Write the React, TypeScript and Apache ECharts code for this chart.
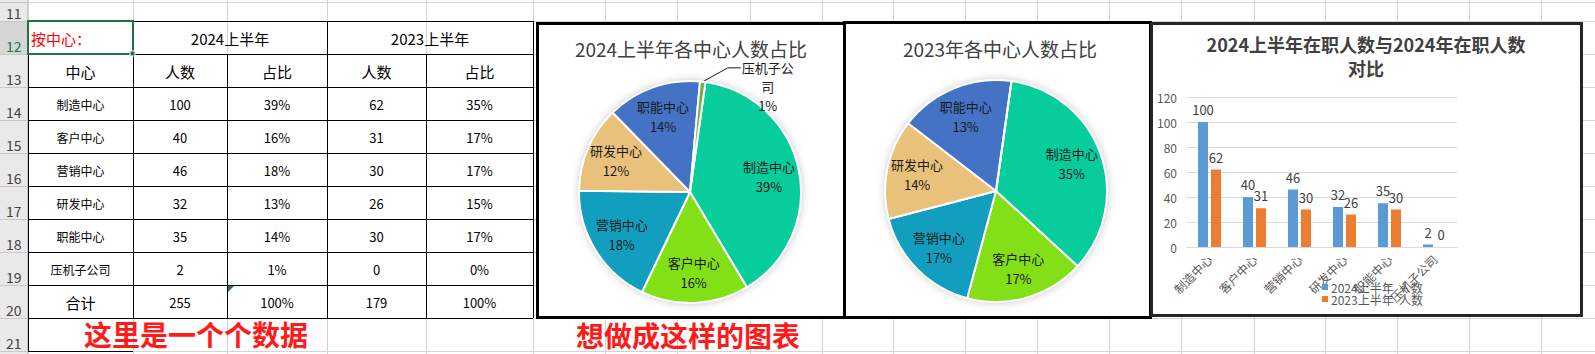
import React, { useEffect, useRef } from "react";
import * as echarts from "echarts";

// ---------- data ----------
const centers = ["制造中心", "客户中心", "营销中心", "研发中心", "职能中心", "压机子公司"];
const count2024 = [100, 40, 46, 32, 35, 2];
const share2024 = ["39%", "16%", "18%", "13%", "14%", "1%"];
const count2023 = [62, 31, 30, 26, 30, 0];
const share2023 = ["35%", "17%", "17%", "15%", "17%", "0%"];
const total2024 = 255;
const total2023 = 179;
const totalShare = "100%";
const pie2023Shown = [35, 17, 17, 14, 13]; // percentages printed on the 2023 pie
const rowNumbers = ["11", "12", "13", "14", "15", "16", "17", "18", "19", "20", "21"];
const barNames = ["2024上半年  人数", "2023上半年  人数"];
const yTicks = { min: 0, max: 120, step: 20 };

// ---------- layout / style ----------
const FONT = '"Noto Sans CJK SC", "Noto Sans", sans-serif';
const sliceColors = ["#07cc9c", "#84e016", "#129fbf", "#e9c17a", "#4472c4", "#70ad47"];
const colX = [28, 133, 227, 327, 426, 533];
const rowY = [2, 21, 54, 87, 120, 153, 186, 219, 252, 285, 318, 351];
const gridCols = [28, 133, 227, 327, 426, 533, 605, 677, 750, 822, 893, 965, 1037, 1109, 1181, 1254, 1325, 1397, 1469, 1541];
const PIE_R = 111;
const pie1Center = [690, 192];
const pie2Center = [996, 191];

function txt(x: number, y: number, text: string, size: number, color: string, extra: any = {}) {
  return {
    type: "text",
    x,
    y,
    z: 10,
    silent: true,
    style: {
      text,
      align: extra.align || "center",
      verticalAlign: "middle",
      fontSize: size,
      fontFamily: FONT,
      fontWeight: extra.weight || "normal",
      lineHeight: extra.lineHeight,
      fill: color,
    },
  };
}
function hline(x1: number, x2: number, y: number, color: string, w = 1, z = 2) {
  return { type: "line", z, silent: true, shape: { x1, y1: y + 0.5, x2, y2: y + 0.5 }, style: { stroke: color, lineWidth: w } };
}
function vline(x: number, y1: number, y2: number, color: string, w = 1, z = 2) {
  return { type: "line", z, silent: true, shape: { x1: x + 0.5, y1, x2: x + 0.5, y2 }, style: { stroke: color, lineWidth: w } };
}

function buildGraphic() {
  const els: any[] = [];
  const GRAY = "#d4d4d4";
  // spreadsheet gridlines
  rowY.forEach((y) => els.push(hline(28, 1595, y, GRAY, 1, 1)));
  gridCols.forEach((x) => els.push(vline(x, 0, 354, GRAY, 1, 1)));
  // row header column
  els.push({ type: "rect", z: 1, silent: true, shape: { x: 0, y: 0, width: 28, height: 354 }, style: { fill: "#e9e9e9" } });
  els.push({ type: "rect", z: 1, silent: true, shape: { x: 0, y: rowY[1], width: 28, height: rowY[2] - rowY[1] }, style: { fill: "#d6d6d6" } });
  rowY.forEach((y) => els.push(hline(0, 28, y, "#c8c8c8", 1, 2)));
  els.push(vline(27, 0, 354, "#c8c8c8", 1, 2));
  rowNumbers.forEach((n, i) => {
    els.push(txt(6, rowY[i + 1] - 8, n, 14, i === 1 ? "#217346" : "#444", { align: "left" }));
  });
  // table borders
  const B = "#000";
  els.push(hline(133, 533, rowY[1], B, 1, 3));
  for (let r = 2; r <= 10; r++) els.push(hline(28, 533, rowY[r], B, 1, 3));
  els.push(hline(28, 133, rowY[11], B, 1, 3));
  els.push(vline(28, rowY[1], rowY[11], B, 1, 3));
  els.push(vline(133, rowY[1], rowY[10], B, 1, 3));
  els.push(vline(227, rowY[2], rowY[10], B, 1, 3));
  els.push(vline(327, rowY[1], rowY[10], B, 1, 3));
  els.push(vline(426, rowY[2], rowY[10], B, 1, 3));
  els.push(vline(533, rowY[1], rowY[10], B, 1, 3));
  // selected cell
  els.push({ type: "rect", z: 4, silent: true, shape: { x: 28, y: 21, width: 105, height: 33 }, style: { fill: "none", stroke: "#217346", lineWidth: 2 } });
  els.push({ type: "rect", z: 4, silent: true, shape: { x: 130, y: 51, width: 5, height: 5 }, style: { fill: "#217346", stroke: "#fff", lineWidth: 1 } });
  els.push({ type: "polygon", z: 4, silent: true, shape: { points: [[228, 286], [234, 286], [228, 292]] }, style: { fill: "#217346" } });

  const cx = (c: number) => (colX[c] + colX[c + 1]) / 2;
  const cy = (r: number) => (rowY[r] + rowY[r + 1]) / 2 + 1;
  // header rows
  els.push(txt(31, cy(1), "按中心：", 15, "#ff0000", { align: "left" }));
  els.push(txt((colX[1] + colX[3]) / 2, cy(1), "2024上半年", 15, "#000"));
  els.push(txt((colX[3] + colX[5]) / 2, cy(1), "2023上半年", 15, "#000"));
  ["中心", "人数", "占比", "人数", "占比"].forEach((h, c) => els.push(txt(cx(c), cy(2), h, 15, "#000")));
  centers.forEach((name, i) => {
    const r = 3 + i;
    els.push(txt(cx(0), cy(r), name, 12, "#000"));
    els.push(txt(cx(1), cy(r), String(count2024[i]), 13, "#000"));
    els.push(txt(cx(2), cy(r), share2024[i], 13, "#000"));
    els.push(txt(cx(3), cy(r), String(count2023[i]), 13, "#000"));
    els.push(txt(cx(4), cy(r), share2023[i], 13, "#000"));
  });
  els.push(txt(cx(0), cy(9), "合计", 15, "#000"));
  els.push(txt(cx(1), cy(9), String(total2024), 13, "#000"));
  els.push(txt(cx(2), cy(9), totalShare, 13, "#000"));
  els.push(txt(cx(3), cy(9), String(total2023), 13, "#000"));
  els.push(txt(cx(4), cy(9), totalShare, 13, "#000"));
  els.push(txt(196, 334, "这里是一个个数据", 28, "#ff1a1a", { weight: "bold" }));
  els.push(txt(688, 335, "想做成这样的图表", 28, "#ff1a1a", { weight: "bold" }));

  // chart frames
  els.push({ type: "rect", z: 5, silent: true, shape: { x: 537.5, y: 23.5, width: 307, height: 294 }, style: { fill: "#fff", stroke: "#000", lineWidth: 3 } });
  els.push({ type: "rect", z: 5, silent: true, shape: { x: 844.5, y: 22.5, width: 306, height: 295 }, style: { fill: "#fff", stroke: "#000", lineWidth: 3 } });
  els.push({ type: "rect", z: 6, silent: true, shape: { x: 1151.5, y: 23.5, width: 430, height: 292 }, style: { fill: "#fff", stroke: "#262626", lineWidth: 3 } });
  // chart titles
  els.push(txt(691, 48, "2024上半年各中心人数占比", 19, "#404040"));
  els.push(txt(1000, 48, "2023年各中心人数占比", 19, "#404040"));
  els.push(txt(1366, 56, "2024上半年在职人数与2024年在职人数\n对比", 18, "#404040", { weight: "bold", lineHeight: 24 }));
  return els;
}

function pieSeries(center: number[], values: number[], pctText: (p: any) => string, isFirst: boolean) {
  const data = centers.map((n, i) => ({ name: n, value: values[i], itemStyle: { color: sliceColors[i] } }));
  const mainData: any[] = data.map((d) => ({ ...d }));
  if (isFirst) {
    mainData[5] = {
      ...mainData[5],
      label: {
        show: true,
        position: "outside",
        formatter: (p: any) => `${p.name.slice(0, 4)}\n${p.name.slice(4)}\n${p.percent}%`,
        fontSize: 13,
        lineHeight: 19,
        fontFamily: FONT,
        color: "#1a1a1a",
      },
      labelLine: { show: true, length: 15, length2: 12, lineStyle: { color: "#1a1a1a", width: 1 } },
    };
  }
  const labelData: any[] = data.map((d, i) => ({
    ...d,
    itemStyle: { color: "rgba(0,0,0,0)", borderWidth: 0 },
    label: { show: i < 5 },
  }));
  return [
    {
      type: "pie",
      center,
      radius: PIE_R,
      silent: true,
      z: 7,
      startAngle: 82,
      label: { show: false },
      labelLine: { show: false },
      itemStyle: { color: "#fff", shadowBlur: 8, shadowColor: "rgba(0,0,0,0.25)" },
      data: [{ value: 1, name: "bg" }],
    },
    {
      type: "pie",
      center,
      radius: PIE_R,
      z: 8,
      startAngle: 82,
      clockwise: true,
      silent: true,
      percentPrecision: 0,
      avoidLabelOverlap: false,
      itemStyle: { borderColor: "#fff", borderWidth: 2 },
      label: { show: false },
      labelLine: { show: false },
      labelLayout: isFirst
        ? (params: any) => {
            if (params.dataIndex !== 5 || !params.labelLinePoints) return {};
            const p0 = params.labelLinePoints[0];
            const ly = params.labelLinePoints[1][1] + 1;
            const pts = [p0, [p0[0] + 25, ly], [p0[0] + 38, ly]];
            return { x: p0[0] + 65, y: ly - 10, align: "center", verticalAlign: "top", labelLinePoints: pts };
          }
        : undefined,
      data: mainData,
    },
    {
      type: "pie",
      center,
      radius: [44, PIE_R],
      z: 9,
      startAngle: 82,
      clockwise: true,
      silent: true,
      percentPrecision: 0,
      avoidLabelOverlap: false,
      label: {
        show: true,
        position: "inside",
        formatter: (p: any) => `${p.name}\n${pctText(p)}%`,
        fontSize: 13,
        lineHeight: 20,
        fontFamily: FONT,
        color: "#1a1a1a",
      },
      labelLine: { show: false },
      data: labelData,
    },
  ];
}

export default function App() {
  const ref = useRef<HTMLDivElement>(null);
  useEffect(() => {
    if (!ref.current) return;
    const chart = echarts.init(ref.current, undefined, { renderer: "svg" });
    const option: any = {
      animation: false,
      backgroundColor: "#fff",
      textStyle: { fontFamily: FONT },
      graphic: { elements: buildGraphic() },
      legend: {
        data: barNames,
        orient: "vertical",
        left: 1322,
        top: 281,
        padding: 0,
        itemGap: 0,
        itemWidth: 6,
        itemHeight: 6,
        icon: "rect",
        z: 12,
        textStyle: { fontSize: 12, color: "#595959", lineHeight: 12, fontFamily: FONT, padding: [0, 0, 0, -2] },
      },
      grid: { left: 1187, top: 97, width: 270, height: 150, containLabel: false, z: 10 },
      xAxis: {
        type: "category",
        data: centers,
        z: 10,
        axisTick: { show: false },
        axisLine: { lineStyle: { color: "#d9d9d9" } },
        axisLabel: { rotate: 45, interval: 0, fontSize: 12, color: "#595959", margin: 10, fontFamily: FONT },
      },
      yAxis: {
        type: "value",
        z: 10,
        min: yTicks.min,
        max: yTicks.max,
        interval: yTicks.step,
        axisLine: { show: false },
        axisTick: { show: false },
        axisLabel: { fontSize: 12, color: "#595959", margin: 10, fontFamily: FONT },
        splitLine: { lineStyle: { color: "#d9d9d9" } },
      },
      series: [
        ...pieSeries(pie1Center, count2024, (p: any) => String(p.percent), true),
        ...pieSeries(pie2Center, count2023, (p: any) => String(pie2023Shown[p.dataIndex]), false),
        {
          type: "bar",
          name: barNames[0],
          data: count2024,
          z: 11,
          barWidth: 10,
          barGap: "30%",
          itemStyle: { color: "#5b9bd5" },
          label: { show: true, position: "top", distance: 6, fontSize: 13, color: "#404040", fontFamily: FONT },
        },
        {
          type: "bar",
          name: barNames[1],
          data: count2023,
          z: 11,
          barWidth: 10,
          barGap: "30%",
          itemStyle: { color: "#ed7d31" },
          label: { show: true, position: "top", distance: 6, fontSize: 13, color: "#404040", fontFamily: FONT },
        },
      ],
    };
    chart.setOption(option);
    return () => chart.dispose();
  }, []);
  return <div ref={ref} style={{ position: "fixed", left: 0, top: 0, width: 1595, height: 354 }} />;
}
